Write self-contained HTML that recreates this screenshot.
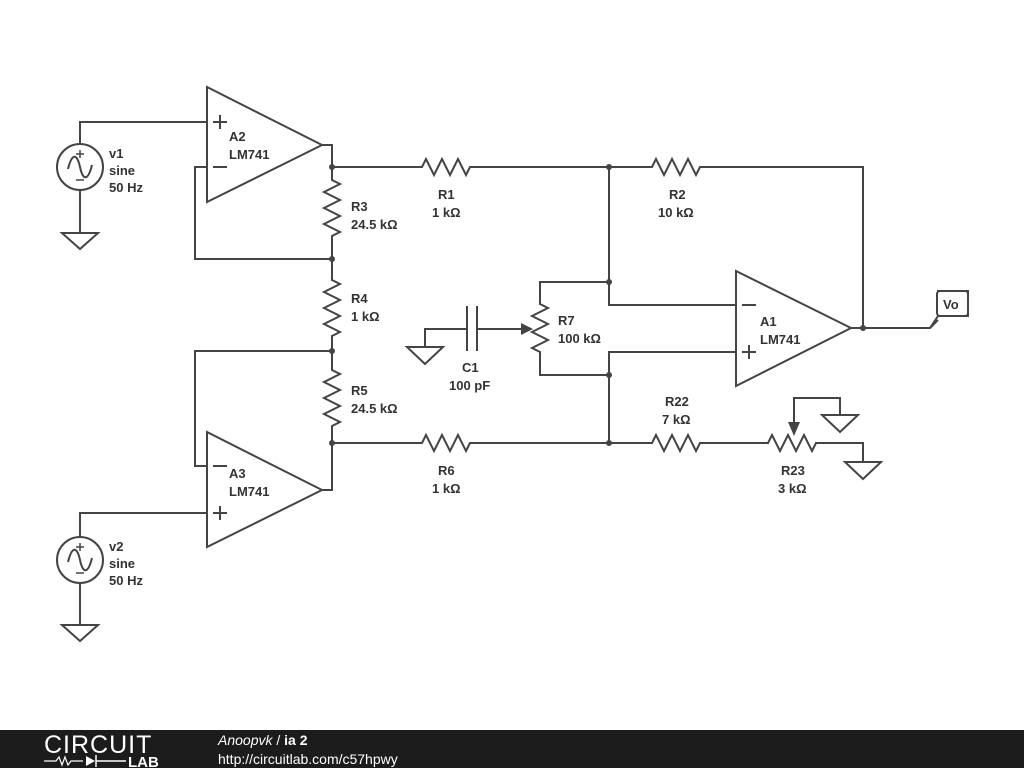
<!DOCTYPE html>
<html><head><style>body{margin:0;background:#fff}svg{display:block}text{font-family:"Liberation Sans",Arial,sans-serif;font-weight:bold;font-size:13px;fill:#333}</style></head>
<body>
<svg width="1024" height="768" xmlns="http://www.w3.org/2000/svg">
<g stroke="#444" stroke-width="2" fill="none" stroke-linejoin="miter">
<!-- A2 -->
<polygon points="207,87 207,202 322,145"/>
<path d="M213,122h14M220,115v14M213,167h14"/>
<path d="M80,144V122H207M80,190V233"/>
<circle cx="80" cy="167" r="23"/>
<path d="M68,169c4,-16 9,-16 12,-2s8,14 12,-2"/>
<path d="M76,154h8M80,150v8M76,180h8" stroke-width="1.5"/>
<polygon points="62,233 98,233 80,249"/>
<path d="M207,167H195V259H332"/>
<path d="M322,145H332V180l8,4-16,8 16,8-16,8 16,8-16,8 16,8-8,4V280l8,4-16,8 16,8-16,8 16,8-16,8 16,8-8,4V370l8,4-16,8 16,8-16,8 16,8-16,8 16,8-8,4V490H322"/>
<!-- A3 -->
<polygon points="207,432 207,547 322,490"/>
<path d="M213,466h14M213,513h14M220,506v14"/>
<path d="M332,351H195V466H207"/>
<path d="M80,537V513H207M80,583V625"/>
<circle cx="80" cy="560" r="23"/>
<path d="M68,562c4,-16 9,-16 12,-2s8,14 12,-2"/>
<path d="M76,547h8M80,543v8M76,573h8" stroke-width="1.5"/>
<polygon points="62,625 98,625 80,641"/>
<!-- top row -->
<path d="M332,167H422l4,-8 8,16 8,-16 8,16 8,-16 8,16 4,-8H652l4,-8 8,16 8,-16 8,16 8,-16 8,16 4,-8H863V328"/>
<!-- bottom row -->
<path d="M332,443H422l4,-8 8,16 8,-16 8,16 8,-16 8,16 4,-8H652l4,-8 8,16 8,-16 8,16 8,-16 8,16 4,-8H768l4,-8 8,16 8,-16 8,16 8,-16 8,16 4,-8H863V462"/>
<polygon points="845,462 881,462 863,479"/>
<path d="M794,424V398H840V415"/>
<polygon points="822,415 858,415 840,432"/>
<!-- R7 -->
<path d="M609,167V305H736M736,352H609V443M609,375H540V352l-8,-4 16,-8-16,-8 16,-8-16,-8 16,-8-8,-4V282H609"/>
<path d="M425,347V329H467M467,306V351M477,306V351M477,329H522"/>
<polygon points="407,347 443,347 425,364"/>
<!-- A1 -->
<polygon points="736,271 736,386 851,328"/>
<path d="M742,305h14M742,352h14M749,345v14"/>
<path d="M851,328H930l8,-8"/>
</g>
<polygon points="521,323 533,329 521,335" fill="#444"/>
<polygon points="788,422 800,422 794,436" fill="#444"/>
<g fill="#444">
<circle cx="332" cy="167" r="3"/><circle cx="332" cy="259" r="3"/><circle cx="332" cy="351" r="3"/><circle cx="332" cy="443" r="3"/>
<circle cx="609" cy="167" r="3"/><circle cx="609" cy="282" r="3"/><circle cx="609" cy="375" r="3"/><circle cx="609" cy="443" r="3"/><circle cx="863" cy="328" r="3"/>
</g>
<path d="M930,328l8,-12V291h30v25H938" fill="#fff" stroke="#444" stroke-width="2"/>
<rect x="937" y="291" width="31" height="25" rx="3" fill="#fff" stroke="#444" stroke-width="2"/>
<text x="943" y="309">Vo</text>
<text x="229" y="141">A2</text><text x="229" y="159">LM741</text>
<text x="229" y="478">A3</text><text x="229" y="496">LM741</text>
<text x="760" y="326">A1</text><text x="760" y="344">LM741</text>
<text x="109" y="158">v1</text><text x="109" y="175">sine</text><text x="109" y="192">50 Hz</text>
<text x="109" y="551">v2</text><text x="109" y="568">sine</text><text x="109" y="585">50 Hz</text>
<text x="351" y="211">R3</text><text x="351" y="229">24.5 kΩ</text>
<text x="351" y="303">R4</text><text x="351" y="321">1 kΩ</text>
<text x="351" y="395">R5</text><text x="351" y="413">24.5 kΩ</text>
<text x="438" y="199">R1</text><text x="432" y="217">1 kΩ</text>
<text x="669" y="199">R2</text><text x="658" y="217">10 kΩ</text>
<text x="438" y="475">R6</text><text x="432" y="493">1 kΩ</text>
<text x="665" y="406">R22</text><text x="662" y="424">7 kΩ</text>
<text x="781" y="475">R23</text><text x="778" y="493">3 kΩ</text>
<text x="558" y="325">R7</text><text x="558" y="343">100 kΩ</text>
<text x="462" y="372">C1</text><text x="449" y="390">100 pF</text>
<rect x="0" y="730" width="1024" height="38" fill="#1c1c1c"/>
<text x="44" y="753" style="font-weight:normal;font-size:25px;fill:#fff;letter-spacing:1px">CIRCUIT</text>
<path d="M44,761h12l3,-4 3,8 3,-8 3,8 3,-4h12" stroke="#fff" stroke-width="1.2" fill="none"/>
<polygon points="86,756 86,766 95,761" fill="#fff"/><path d="M96,755v12M96,761h30" stroke="#fff" stroke-width="1.5"/>
<text x="128" y="767" style="font-size:15px;fill:#fff">LAB</text>
<text x="218" y="745" style="font-weight:normal;font-style:italic;font-size:14px;fill:#fff">Anoopvk <tspan font-style="normal">/</tspan> <tspan font-weight="bold" font-style="normal">ia 2</tspan></text>
<text x="218" y="764" style="font-weight:normal;font-size:14px;fill:#fff">http://circuitlab.com/c57hpwy</text>
</svg>
</body></html>
